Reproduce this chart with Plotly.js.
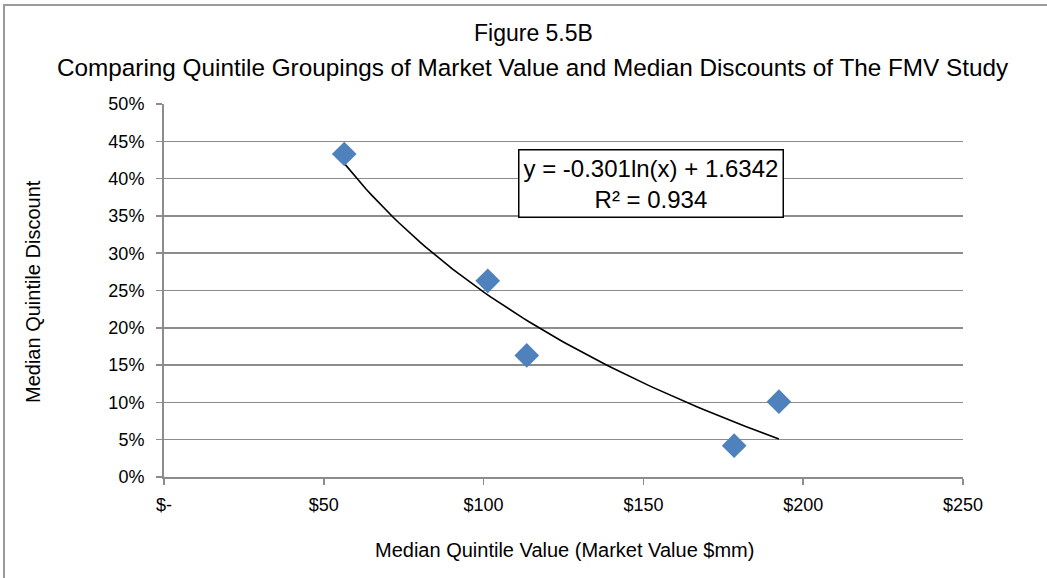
<!DOCTYPE html>
<html>
<head>
<meta charset="utf-8">
<script src="https://cdn.plot.ly/plotly-3.0.1.min.js"></script>
<style>
  html, body { margin: 0; padding: 0; background: #fff; overflow: hidden; }
  #frame { position: absolute; left: 3px; top: 4px; width: 1100px; height: 600px;
           border-left: 2px solid #9a9a9a; border-top: 2px solid #9a9a9a; box-sizing: border-box; }
  #chart { position: absolute; left: 0; top: 0; width: 1047px; height: 578px; }
</style>
</head>
<body>
<div id="frame"></div>
<div id="chart"></div>
<script>
// Data
const marketValue = [56.4, 101.3, 113.5, 178.4, 192.4];      // Median quintile value ($mm)
const medianDiscount = [0.433, 0.263, 0.163, 0.042, 0.101];   // Median quintile discount

// Trendline coefficients as printed on the chart: y = a ln(x) + b
const trendA = -0.301;
const trendB = 1.6342;
const trendLabel = ["y = -0.301ln(x) + 1.6342", "R² = 0.934"];

const titleLines = ["Figure 5.5B", "Comparing Quintile Groupings of Market Value and Median Discounts of The FMV Study"];
const xTitle = "Median Quintile Value (Market Value $mm)";
const yTitle = "Median Quintile Discount";

const xTickVals = [0, 50, 100, 150, 200, 250];
const xTickText = ["$-", "$50", "$100", "$150", "$200", "$250"];

const xMin = Math.min(...marketValue), xMax = Math.max(...marketValue);
const trendX = [], trendY = [];
const nSteps = 80;
for (let i = 0; i <= nSteps; i++) {
  const x = xMin + (xMax - xMin) * i / nSteps;
  trendX.push(x);
  trendY.push(trendA * Math.log(x) + trendB);
}

const font = "Liberation Sans, Arial, sans-serif";
const gray = "#8c8c8c";

// plot area in pixels: x 164..963, y 104..477
const PL = 164, PW = 799, PB = 477, PH = 373;
const px = v => (v - PL) / PW;
const py = v => (PB - v) / PH;

const traces = [
  {
    x: trendX, y: trendY, type: "scatter", mode: "lines",
    line: { color: "#000000", width: 1.6 }, hoverinfo: "skip", showlegend: false
  },
  {
    x: marketValue, y: medianDiscount, type: "scatter", mode: "markers",
    marker: { symbol: "diamond", size: 19, color: "#4F81BD", line: { width: 0 } },
    showlegend: false
  }
];

const layout = {
  width: 1047, height: 578,
  margin: { l: 164, r: 84, t: 104, b: 101 },
  paper_bgcolor: "rgba(0,0,0,0)",
  plot_bgcolor: "rgba(0,0,0,0)",
  font: { family: font, color: "#000" },
  xaxis: {
    range: [0, 250], tickvals: xTickVals, ticktext: xTickText,
    showgrid: false, zeroline: false,
    showline: true, linecolor: gray, linewidth: 2,
    ticks: "outside", ticklen: 6, tickcolor: gray, tickwidth: 1.5,
    ticklabelstandoff: 4,
    tickfont: { family: font, size: 18, color: "#000" }
  },
  yaxis: {
    range: [0, 0.5], dtick: 0.05, tickformat: ".0%",
    showgrid: true, gridcolor: gray, gridwidth: 1.5, zeroline: false,
    showline: true, linecolor: gray, linewidth: 2,
    ticks: "outside", ticklen: 6, tickcolor: gray, tickwidth: 1.5,
    ticklabelstandoff: 8,
    tickfont: { family: font, size: 18, color: "#000" }
  },
  annotations: [
    {
      xref: "paper", yref: "paper", x: px(533), y: py(33), xanchor: "center", yanchor: "middle",
      text: titleLines[0], showarrow: false, font: { family: font, size: 23, color: "#000" }
    },
    {
      xref: "paper", yref: "paper", x: px(533), y: py(68), xanchor: "center", yanchor: "middle",
      text: titleLines[1], showarrow: false, font: { family: font, size: 24.3, color: "#000" }
    },
    {
      xref: "paper", yref: "paper", x: px(564), y: py(550), xanchor: "center", yanchor: "middle",
      text: xTitle, showarrow: false, font: { family: font, size: 20, color: "#000" }
    },
    {
      xref: "paper", yref: "paper", x: px(33), y: py(292), xanchor: "center", yanchor: "middle",
      text: yTitle, showarrow: false, textangle: -90, font: { family: font, size: 20, color: "#000" }
    },
    {
      xref: "paper", yref: "paper", x: px(651), y: py(183.5),
      xanchor: "center", yanchor: "middle",
      text: trendLabel.join("<br>"), showarrow: false, align: "center",
      font: { family: font, size: 24, color: "#000" },
      bgcolor: "#ffffff", bordercolor: "#000000", borderwidth: 1.5,
      borderpad: 4
    }
  ]
};

Plotly.newPlot("chart", traces, layout, { displayModeBar: false, staticPlot: true });
</script>
</body>
</html>
